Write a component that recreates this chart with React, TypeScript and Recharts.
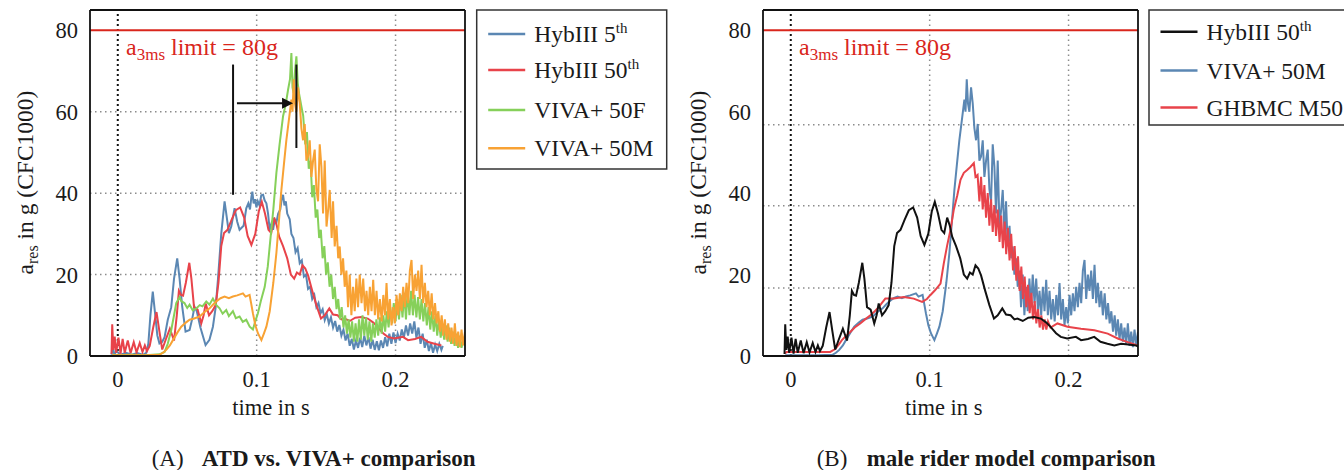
import React from "react"
import { LineChart, Line, XAxis, YAxis, ReferenceLine, ReferenceDot } from "recharts"

type Pt = [number, number]

const serif = "'Liberation Serif', 'Times New Roman', serif"
const ink = "#1a1a1a"

// axes
const timeDomain: [number, number] = [-0.02, 0.25]
const accelDomain: [number, number] = [0, 85]
const timeTicks = [0, 0.1, 0.2]
const accelTicks = [0, 20, 40, 60, 80]
const gridTimeA = [0.1, 0.2]
const gridAccelA = [20, 40, 60]
const gridAccelB = [16.7, 36.9, 56.8]
const limitG = 80
const hybEndA = 0.234

// time in s, a_res in g
const hyb50: Pt[] = [
  [-0.0045, 0.5], [-0.004, 7.8], [-0.0032, 1.5], [-0.0022, 4.8], [-0.0012, 0.8], [0.0005, 4.5], [0.002, 0.6],
  [0.0035, 4.2], [0.005, 0.8], [0.0072, 3.8], [0.0092, 0.7], [0.0115, 3.4], [0.0135, 0.9], [0.0158, 3.2],
  [0.0178, 1.0], [0.0195, 2.6], [0.021, 1.2], [0.023, 2.5], [0.0255, 7], [0.0279, 10.8], [0.03, 6], [0.032, 1.6],
  [0.0345, 4], [0.0375, 6.7], [0.0405, 3.8], [0.0425, 10], [0.044, 16], [0.0455, 15], [0.047, 14.8], [0.049, 18],
  [0.0515, 22.9], [0.053, 19], [0.0549, 12], [0.0575, 11.4], [0.0601, 8], [0.0618, 10], [0.0633, 12.9],
  [0.0657, 10], [0.068, 11], [0.0705, 12.5], [0.0725, 18], [0.0745, 27], [0.0765, 30.2], [0.079, 31],
  [0.082, 33.5], [0.085, 35.8], [0.0881, 36.5], [0.091, 34], [0.0935, 29.5], [0.0962, 27.3], [0.099, 30],
  [0.1015, 35.5], [0.1037, 37.9], [0.106, 35], [0.1085, 31], [0.1105, 30.2], [0.1126, 34], [0.1145, 32],
  [0.1162, 29.3], [0.119, 27], [0.122, 24], [0.1246, 20], [0.127, 19], [0.129, 20.5], [0.131, 20], [0.133, 22.3],
  [0.135, 21.5], [0.137, 19.8], [0.14, 16], [0.143, 12.5], [0.1463, 9.2], [0.149, 10], [0.1523, 11.7],
  [0.155, 10.2], [0.1583, 10], [0.161, 9], [0.1632, 9.2], [0.167, 8.6], [0.171, 9.4], [0.1752, 9.6], [0.18, 9.2],
  [0.184, 8.2], [0.1872, 7.1], [0.191, 5.6], [0.1944, 4.7], [0.199, 4.3], [0.2053, 4.7], [0.209, 3.9],
  [0.214, 4.2], [0.2185, 4.7], [0.223, 3.5], [0.228, 3.0], [0.233, 2.6], [0.2378, 3.0], [0.243, 2.8],
  [0.2486, 2.6], [0.2505, 2.2],
]

const hyb5: Pt[] = [
  [-0.0045, 0.3], [-0.0035, 2.2], [-0.0025, 0.3], [-0.001, 1.2], [0.002, 0.3], [0.006, 0.8], [0.01, 0.3],
  [0.014, 0.7], [0.018, 0.3], [0.0205, 0.8], [0.022, 3], [0.0235, 10], [0.0252, 15.8], [0.027, 10], [0.0285, 5],
  [0.03, 3.1], [0.032, 3.5], [0.0337, 4.6], [0.036, 8.9], [0.0385, 12], [0.0405, 19], [0.0428, 24], [0.0445, 19],
  [0.0464, 12.1], [0.0488, 6], [0.0517, 6.4], [0.0535, 9], [0.0553, 12.1], [0.0569, 11], [0.0595, 7],
  [0.0632, 2.7], [0.066, 4], [0.0685, 7.2], [0.0705, 12], [0.0721, 18.7], [0.0745, 30], [0.0769, 38],
  [0.0785, 34], [0.08, 30.2], [0.0817, 31.8], [0.0841, 36.3], [0.086, 33], [0.0877, 31], [0.0906, 32],
  [0.0925, 36.3], [0.094, 37.5], [0.0952, 36], [0.0962, 39], [0.0969, 40.4], [0.0978, 37.5], [0.0988, 38.5],
  [0.0998, 36.5], [0.1008, 38], [0.102, 37], [0.1033, 39.5], [0.1046, 39.6], [0.1058, 38.2], [0.107, 37.5],
  [0.1082, 35], [0.1094, 31], [0.1106, 32.5], [0.1118, 31], [0.113, 33.5], [0.1142, 32.8], [0.1155, 35],
  [0.117, 36], [0.118, 38.5], [0.119, 39.6], [0.12, 37], [0.121, 38], [0.122, 35], [0.1238, 33.6], [0.125, 30],
  [0.1265, 29], [0.128, 25.5], [0.1295, 26.5], [0.131, 22.8], [0.1325, 23.5], [0.134, 19.5], [0.1355, 20],
  [0.137, 16.5], [0.1385, 17], [0.14, 14], [0.1415, 15], [0.143, 12], [0.1445, 13], [0.146, 10.5],
  [0.1475, 11.5], [0.149, 8.8], [0.1505, 10.3], [0.152, 8], [0.1535, 9.5], [0.155, 7], [0.1565, 8.6],
  [0.158, 6], [0.1595, 7.6], [0.161, 5], [0.1625, 6.5], [0.164, 3.8], [0.1655, 5.5], [0.167, 2.5],
  [0.1685, 4.2], [0.17, 1.6], [0.1715, 3.8], [0.173, 2], [0.1745, 4.5], [0.176, 2.2], [0.1775, 5], [0.179, 2.6],
  [0.1805, 4.6], [0.182, 1.8], [0.1835, 4], [0.185, 1.5], [0.1865, 3.6], [0.188, 1.4], [0.1895, 3.8],
  [0.191, 2], [0.1925, 4.6], [0.194, 2.4], [0.1955, 5.5], [0.197, 3], [0.1985, 5.8], [0.2, 3.2], [0.2015, 5.5],
  [0.203, 3.8], [0.2045, 6.5], [0.206, 4.5], [0.2075, 7.5], [0.209, 5], [0.2105, 8], [0.212, 5.5],
  [0.2135, 8.5], [0.215, 4.5], [0.2165, 7], [0.218, 3], [0.2195, 5.5], [0.221, 2], [0.2225, 4], [0.224, 1.2],
  [0.2255, 3.2], [0.227, 0.8], [0.2285, 2.8], [0.23, 1.2], [0.2315, 3], [0.233, 1.5], [0.234, 2.5],
]

const viva50f: Pt[] = [
  [-0.004, 0.3], [0.0, 0.2], [0.01, 0.3], [0.02, 0.2], [0.03, 0.4], [0.0337, 1], [0.036, 3], [0.0385, 6.4],
  [0.0405, 10], [0.0421, 13], [0.0445, 14.5], [0.0457, 13.5], [0.048, 13], [0.05, 11.8], [0.0517, 12.6],
  [0.054, 11.2], [0.0565, 11.7], [0.059, 12.5], [0.061, 12.2], [0.0637, 13.4], [0.066, 12.6], [0.0685, 14.1],
  [0.071, 12.5], [0.0733, 11.7], [0.0755, 10.4], [0.0781, 11.3], [0.08, 9.8], [0.0829, 11], [0.085, 9.3],
  [0.0877, 9.7], [0.09, 8.4], [0.0925, 8.9], [0.095, 7.2], [0.0973, 6.5], [0.099, 8.5], [0.1009, 10.5],
  [0.103, 13.5], [0.1058, 17], [0.108, 22], [0.1094, 27], [0.112, 36], [0.1142, 45], [0.1165, 52],
  [0.119, 58.9], [0.121, 62], [0.1226, 65.4], [0.124, 68], [0.125, 74.4], [0.1258, 66], [0.1266, 64.6],
  [0.1276, 70], [0.1286, 73.6], [0.1296, 67], [0.1305, 64.5], [0.1322, 61.3], [0.1335, 59], [0.135, 52],
  [0.1362, 55], [0.1375, 46], [0.1388, 48], [0.14, 39], [0.1412, 42], [0.1425, 34], [0.1437, 36], [0.145, 29],
  [0.1462, 31], [0.1475, 24], [0.1487, 27], [0.15, 20], [0.1512, 23], [0.1525, 17], [0.1537, 20], [0.155, 14],
  [0.1562, 17], [0.1575, 11.5], [0.1587, 14], [0.16, 9], [0.1612, 12], [0.1625, 7], [0.1637, 10], [0.165, 5.5],
  [0.1662, 9], [0.1675, 4.5], [0.1687, 8.5], [0.17, 3.5], [0.1712, 8], [0.1725, 3.5], [0.1737, 9], [0.175, 4],
  [0.1762, 10], [0.1775, 5], [0.1787, 9.5], [0.18, 4], [0.1812, 8.5], [0.1825, 3.5], [0.1837, 8], [0.185, 4.5],
  [0.1862, 9], [0.1875, 5], [0.1887, 9.5], [0.19, 5.5], [0.1912, 10], [0.1925, 6], [0.1937, 11], [0.195, 7],
  [0.1962, 12], [0.1975, 8], [0.1987, 13], [0.2, 8.5], [0.2012, 14], [0.2025, 9], [0.2037, 15], [0.205, 9.5],
  [0.2062, 15.5], [0.2075, 9], [0.2087, 16], [0.21, 10], [0.2112, 16], [0.2125, 10], [0.2137, 15],
  [0.215, 9.5], [0.2162, 14.5], [0.2175, 9], [0.2187, 14], [0.22, 8.5], [0.2212, 13], [0.2225, 7.5],
  [0.2237, 12], [0.225, 6.5], [0.2262, 11], [0.2275, 6], [0.2287, 10], [0.23, 5], [0.2312, 9], [0.2325, 4.5],
  [0.2337, 8], [0.235, 4], [0.2362, 7.5], [0.2375, 3.5], [0.2387, 7], [0.24, 3], [0.2412, 6], [0.2425, 2.5],
  [0.2437, 5.5], [0.245, 2], [0.2462, 5], [0.2475, 2], [0.2487, 4], [0.25, 2.5],
]

const viva50m: Pt[] = [
  [-0.004, 0.2], [0.0, 0.2], [0.01, 0.2], [0.02, 0.2], [0.03, 0.3], [0.0325, 0.8], [0.0349, 1.5],
  [0.0375, 2.6], [0.0397, 3.9], [0.043, 5.8], [0.0457, 7.2], [0.049, 8.2], [0.0517, 8.9], [0.055, 9.2],
  [0.0589, 9.7], [0.0625, 10.8], [0.0661, 11.7], [0.0685, 12.6], [0.0709, 13.4], [0.074, 14.2], [0.0769, 14.6],
  [0.08, 14.2], [0.0829, 14.6], [0.086, 14.9], [0.0901, 15.4], [0.092, 14.6], [0.0949, 15], [0.096, 13],
  [0.0973, 10.5], [0.0991, 7.5], [0.1009, 5.6], [0.1034, 3.9], [0.1052, 5.5], [0.107, 7.2], [0.1094, 11],
  [0.112, 18], [0.1142, 25.3], [0.116, 33], [0.1178, 40.8], [0.1196, 47], [0.1214, 53.1], [0.1232, 58],
  [0.125, 63], [0.1258, 60], [0.1267, 68], [0.1276, 62], [0.1286, 60], [0.1298, 66], [0.131, 62.1],
  [0.1322, 56], [0.1334, 53], [0.1346, 57], [0.1358, 48], [0.137, 49], [0.1382, 53], [0.1394, 44],
  [0.1406, 48], [0.1418, 50.7], [0.143, 41], [0.1442, 38], [0.1454, 52], [0.1466, 46.6], [0.1478, 35],
  [0.149, 48], [0.1503, 31.8], [0.1515, 36], [0.1526, 40.8], [0.154, 29], [0.155, 38], [0.1562, 26.9],
  [0.1575, 32], [0.1587, 24], [0.1598, 26.9], [0.161, 20], [0.1622, 24], [0.1634, 17], [0.1646, 21],
  [0.1658, 12], [0.167, 20], [0.1682, 10], [0.1694, 17], [0.1706, 11], [0.1718, 19], [0.173, 12], [0.1742, 20],
  [0.1755, 13], [0.1767, 19], [0.178, 11], [0.1791, 16], [0.1803, 10], [0.1815, 17], [0.1827, 11],
  [0.1839, 18.7], [0.1851, 10], [0.1863, 16], [0.1875, 9], [0.1887, 14], [0.19, 8.5], [0.1912, 15],
  [0.1924, 10], [0.1935, 17.9], [0.1947, 9], [0.1959, 14], [0.1971, 7.5], [0.1983, 12], [0.1995, 8],
  [0.2007, 15], [0.2019, 10], [0.2031, 15.4], [0.2043, 11], [0.2055, 17], [0.2067, 12], [0.2079, 18],
  [0.2091, 13], [0.2103, 21], [0.2115, 23.6], [0.2127, 14], [0.2139, 20], [0.2151, 16], [0.2163, 21],
  [0.2175, 14], [0.2187, 22.4], [0.2199, 13], [0.2211, 18], [0.2223, 12], [0.2235, 16], [0.2247, 10],
  [0.226, 15.4], [0.2272, 9], [0.2284, 13], [0.2296, 8], [0.2308, 11], [0.232, 6], [0.2332, 10], [0.2343, 5],
  [0.2355, 9], [0.2367, 4], [0.2379, 8], [0.2391, 3.5], [0.2403, 7], [0.2415, 3], [0.2427, 8], [0.2439, 2.5],
  [0.2451, 6], [0.2463, 2.2], [0.2475, 6.5], [0.2487, 2.6], [0.25, 5.9],
]

const ghbmc: Pt[] = [
  [-0.0041, 0.6], [-0.003, 1.0], [0.005, 1.0], [0.015, 1.0], [0.0284, 1.0], [0.032, 1.7], [0.0345, 2.8],
  [0.0368, 3.9], [0.04, 5], [0.0428, 5.9], [0.046, 7], [0.05, 8], [0.0535, 9], [0.0573, 10], [0.0605, 11],
  [0.0633, 12], [0.0655, 13], [0.0681, 14.1], [0.0741, 14.1], [0.0813, 14.5], [0.0885, 14.1], [0.0946, 13.3],
  [0.098, 14], [0.1006, 15], [0.104, 16.2], [0.1078, 17.8], [0.1102, 22.8], [0.1125, 27], [0.115, 31],
  [0.1174, 36], [0.1199, 39.5], [0.1222, 43.3], [0.1246, 45], [0.127, 45.7], [0.1295, 46.5], [0.1318, 47.4],
  [0.133, 44], [0.1345, 44.5], [0.1358, 38], [0.137, 44], [0.1382, 36], [0.1394, 42], [0.1406, 34],
  [0.1418, 40], [0.143, 32], [0.1442, 38.5], [0.1454, 30.5], [0.1466, 37], [0.1478, 29.5], [0.149, 36],
  [0.1503, 28], [0.1515, 34.5], [0.1527, 26.5], [0.154, 33], [0.1551, 25], [0.1563, 31.5], [0.1575, 23.5],
  [0.1587, 30], [0.16, 21], [0.1612, 27], [0.1624, 18.5], [0.1636, 24.5], [0.1648, 16], [0.166, 22],
  [0.1672, 14], [0.1684, 19.5], [0.1696, 12], [0.1708, 17.5], [0.172, 10.5], [0.1732, 15.5], [0.1744, 9],
  [0.1756, 13.5], [0.1768, 8], [0.178, 11.5], [0.1792, 7], [0.1804, 10], [0.1816, 6.5], [0.1828, 9],
  [0.184, 6.5], [0.1852, 8.5], [0.187, 7], [0.192, 8], [0.1992, 7.2], [0.2089, 6.7], [0.2186, 6.3],
  [0.2282, 5.5], [0.2354, 4.3], [0.2426, 3.4], [0.2498, 2.6],
]

// annotation in panel A (time shift of the peak)
const shiftFrom = { t: 0.083, lo: 39.6, hi: 71.6 }
const shiftTo = { t: 0.1286, lo: 51.1, hi: 71.6 }
const arrowLevel = 62.1
const arrowStart = 0.0858
const arrowBase = 0.119
const arrowTip = 0.1262

const colors = {
  blue: "#5b87b3",
  red: "#e8434a",
  green: "#86d05a",
  orange: "#f8a234",
  black: "#111111",
  limit: "#d9261c",
}

const rows = (pts: Pt[]) => pts.map(([t, a]) => ({ t, a }))

const seriesA = [
  { name: "HybIII 5", sup: "th", pts: hyb5, color: colors.blue },
  { name: "HybIII 50", sup: "th", pts: hyb50.filter((p) => p[0] <= hybEndA), color: colors.red },
  { name: "VIVA+ 50F", sup: "", pts: viva50f, color: colors.green },
  { name: "VIVA+ 50M", sup: "", pts: viva50m, color: colors.orange },
]

const seriesB = [
  { name: "HybIII 50", sup: "th", pts: hyb50, color: colors.black },
  { name: "VIVA+ 50M", sup: "", pts: viva50m, color: colors.blue },
  { name: "GHBMC M50", sup: "", pts: ghbmc, color: colors.red },
]
const drawOrderB = [1, 2, 0]

const frame = { stroke: "#111", strokeWidth: 1.8 }
const tickFont = { fontSize: 22.5, fill: ink, fontFamily: serif }

function limitLabel(props: any) {
  const vb = props.viewBox || { x: 0, y: 0 }
  return (
    <text x={vb.x + 36} y={vb.y + 25} fill={colors.limit} fontSize={24} fontFamily={serif}>
      a<tspan fontSize={17} dy={5}>3ms</tspan>
      <tspan dy={-5}> limit = 80g</tspan>
    </text>
  )
}

function Panel({ left, series, order, gridAccel, annotate }: any) {
  const list = order ? order.map((i: number) => series[i]) : series
  return (
    <div style={{ position: "absolute", left, top: 0, fontFamily: serif }}>
      <LineChart width={470} height={420} margin={{ top: 10, right: 5, bottom: 0, left: 0 }} style={{ fontFamily: serif }}>
        <XAxis xAxisId="t" dataKey="t" type="number" domain={timeDomain} ticks={timeTicks} allowDataOverflow
          height={64} axisLine={false} tickLine={false} tickSize={6} tickMargin={9} tick={tickFont} />
        <XAxis xAxisId="bottomFrame" dataKey="t" type="number" domain={timeDomain} ticks={timeTicks} allowDataOverflow
          mirror tick={false} tickSize={6} tickLine={frame} axisLine={frame} />
        <XAxis xAxisId="topFrame" orientation="top" dataKey="t" type="number" domain={timeDomain} ticks={timeTicks}
          allowDataOverflow mirror tick={false} tickSize={6} tickLine={frame} axisLine={frame} />
        <YAxis yAxisId="v" type="number" domain={accelDomain} ticks={accelTicks} allowDataOverflow width={90}
          axisLine={false} tickLine={false} tickSize={6} tickMargin={6} tick={tickFont} />
        <YAxis yAxisId="leftFrame" type="number" domain={accelDomain} ticks={accelTicks} allowDataOverflow
          mirror tick={false} tickSize={6} tickLine={frame} axisLine={frame} />
        <YAxis yAxisId="rightFrame" orientation="right" type="number" domain={accelDomain} ticks={accelTicks}
          allowDataOverflow mirror tick={false} tickSize={6} tickLine={frame} axisLine={frame} />

        {gridAccel.map((g: number) => (
          <ReferenceLine key={"gy" + g} xAxisId="t" yAxisId="v" y={g} stroke="#8c8c8c" strokeWidth={1.5}
            strokeDasharray="1.5 3.5" />
        ))}
        {gridTimeA.map((g: number) => (
          <ReferenceLine key={"gx" + g} xAxisId="t" yAxisId="v" x={g} stroke="#8c8c8c" strokeWidth={1.5}
            strokeDasharray="1.5 3.5" />
        ))}
        <ReferenceLine xAxisId="t" yAxisId="v" x={0} stroke="#111" strokeWidth={2} strokeDasharray="2 3" />

        {list.map((s: any) => (
          <Line key={s.name + s.color} xAxisId="t" yAxisId="v" data={rows(s.pts)} dataKey="a" type="linear"
            stroke={s.color} strokeWidth={2} dot={false} isAnimationActive={false} />
        ))}

        <ReferenceLine xAxisId="t" yAxisId="v" y={limitG} stroke={colors.limit} strokeWidth={2} label={limitLabel} />

        {annotate && (
          <ReferenceLine xAxisId="t" yAxisId="v" stroke="#111" strokeWidth={2}
            segment={[{ x: shiftFrom.t, y: shiftFrom.lo }, { x: shiftFrom.t, y: shiftFrom.hi }]} />
        )}
        {annotate && (
          <ReferenceLine xAxisId="t" yAxisId="v" stroke="#111" strokeWidth={2}
            segment={[{ x: shiftTo.t, y: shiftTo.lo }, { x: shiftTo.t, y: shiftTo.hi }]} />
        )}
        {annotate && (
          <ReferenceLine xAxisId="t" yAxisId="v" stroke="#111" strokeWidth={2}
            segment={[{ x: arrowStart, y: arrowLevel }, { x: arrowBase, y: arrowLevel }]} />
        )}
        {annotate && (
          <ReferenceDot xAxisId="t" yAxisId="v" x={arrowTip} y={arrowLevel}
            shape={(p: any) => (
              <path d={`M${p.cx},${p.cy} L${p.cx - 11},${p.cy - 5.5} L${p.cx - 11},${p.cy + 5.5} Z`} fill="#111" />
            )} />
        )}
      </LineChart>
    </div>
  )
}

function LegendBox({ x, y, w, h, rowsY, items }: any) {
  return (
    <g fontFamily={serif} fill={ink}>
      <rect x={x} y={y} width={w} height={h} fill="#fff" stroke="#333" strokeWidth={1.5} />
      {items.map((s: any, i: number) => (
        <g key={s.name + i}>
          <line x1={x + 11.5} x2={x + 48.5} y1={rowsY[i]} y2={rowsY[i]} stroke={s.color} strokeWidth={2.5} />
          <text x={x + 57.5} y={rowsY[i] + 8} fontSize={23.5}>
            {s.name}
            {s.sup && <tspan fontSize={15} dy={-9}>{s.sup}</tspan>}
          </text>
        </g>
      ))}
    </g>
  )
}

function AxisTitles({ dx }: { dx: number }) {
  return (
    <g fontFamily={serif} fill={ink}>
      <text x={271 + dx} y={415} fontSize={22.5} textAnchor="middle">time in s</text>
      <text transform={`translate(${33 + dx},182.5) rotate(-90)`} fontSize={23.5} textAnchor="middle">
        a<tspan fontSize={16} dy={5}>res</tspan>
        <tspan dy={-5}> in g (CFC1000)</tspan>
      </text>
    </g>
  )
}

export default function App() {
  const dxB = 672.7
  return (
    <div style={{ position: "absolute", left: 0, top: 0, width: 1344, height: 470, overflow: "hidden", background: "#fff", fontFamily: serif }}>
      <Panel left={0} series={seriesA} gridAccel={gridAccelA} annotate />
      <Panel left={dxB} series={seriesB} order={drawOrderB} gridAccel={gridAccelB} annotate={false} />
      <svg width={1344} height={470} style={{ position: "absolute", left: 0, top: 0, pointerEvents: "none" }}>
        <AxisTitles dx={0} />
        <AxisTitles dx={dxB} />
        <LegendBox x={476.7} y={10} w={190} h={159} rowsY={[34, 70, 110, 148.3]} items={seriesA} />
        <LegendBox x={1149} y={10} w={210} h={115} rowsY={[31.7, 70.5, 107.5]} items={seriesB} />
        <g fontFamily={serif} fill={ink} fontSize={23}>
          <text x={151.7} y={466}>(A)</text>
          <text x={201.7} y={466} fontWeight="bold">ATD vs. VIVA+ comparison</text>
          <text x={816.7} y={466}>(B)</text>
          <text x={866.7} y={466} fontWeight="bold">male rider model comparison</text>
        </g>
      </svg>
    </div>
  )
}
